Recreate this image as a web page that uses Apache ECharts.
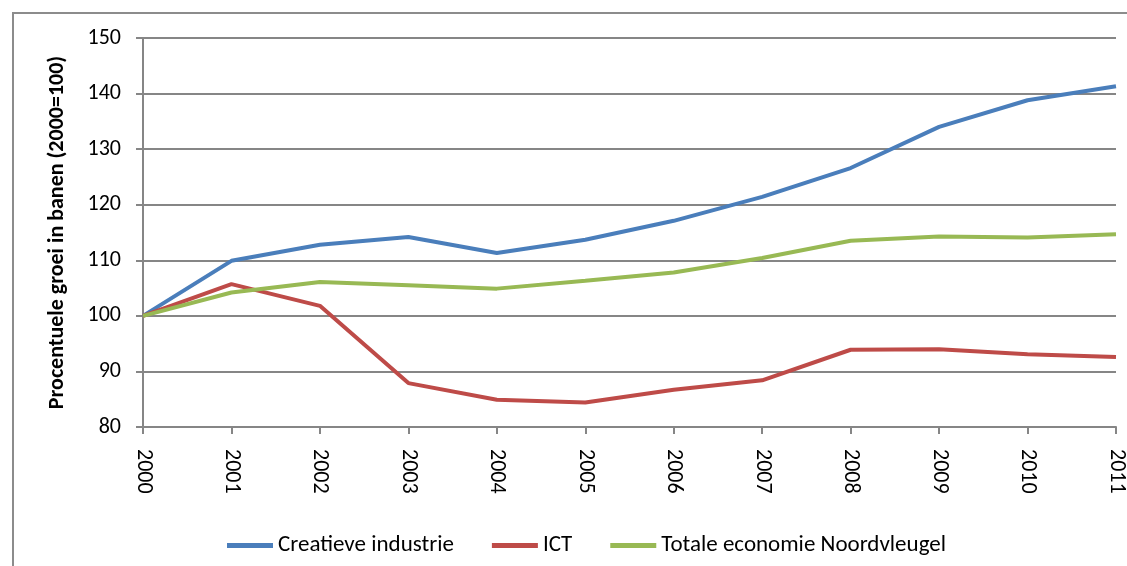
<!DOCTYPE html>
<html>
<head>
<meta charset="utf-8">
<script src="https://cdn.jsdelivr.net/npm/echarts@6/dist/echarts.min.js"></script>
<style>
  html, body { margin: 0; padding: 0; background: #fff; }
  #chart-container { width: 1127px; height: 566px; }
</style>
</head>
<body>
<div id="chart-container"></div>
<script>
var years = ['2000', '2001', '2002', '2003', '2004', '2005', '2006', '2007', '2008', '2009', '2010', '2011'];
var creatief = [100, 109.9, 112.8, 114.2, 111.3, 113.7, 117.1, 121.4, 126.6, 134.0, 138.8, 141.3];
var ict = [100, 105.7, 101.8, 87.9, 84.9, 84.4, 86.7, 88.4, 93.9, 94.0, 93.1, 92.6];
var totaal = [100, 104.2, 106.1, 105.5, 104.9, 106.3, 107.8, 110.4, 113.5, 114.3, 114.1, 114.7];

var dom = document.getElementById('chart-container');
var myChart = echarts.init(dom, null, { renderer: 'canvas' });

var fontFam = 'Carlito, "Liberation Sans Narrow", "Open Sans", sans-serif';
var gridColor = '#868686';

var option = {
  animation: false,
  textStyle: { fontFamily: fontFam },
  graphic: [{
    type: 'rect',
    shape: { x: 13, y: 13, width: 1130, height: 570 },
    style: { fill: 'none', stroke: '#8c8c8c', lineWidth: 2 },
    silent: true
  }],
  grid: { left: 143, right: 10, top: 38, bottom: 139 },
  legend: {
    top: 529,
    left: 222,
    itemWidth: 46,
    itemHeight: 5,
    itemGap: 38,
    icon: 'rect',
    textStyle: { fontSize: 23, color: '#000', fontFamily: fontFam },
    data: ['Creatieve industrie', 'ICT', 'Totale economie Noordvleugel']
  },
  xAxis: {
    type: 'category',
    data: years,
    boundaryGap: false,
    axisLine: { lineStyle: { color: gridColor, width: 2 } },
    axisTick: { show: true, length: 7, lineStyle: { color: gridColor, width: 2 } },
    axisLabel: { rotate: -90, fontSize: 22, color: '#000', margin: 22, fontFamily: fontFam }
  },
  yAxis: {
    type: 'value',
    min: 80,
    max: 150,
    interval: 10,
    name: 'Procentuele groei in banen (2000=100)',
    nameLocation: 'middle',
    nameGap: 75,
    nameTextStyle: { fontSize: 22, fontWeight: 'bold', color: '#000', fontFamily: fontFam },
    axisLine: { show: true, lineStyle: { color: gridColor, width: 2 } },
    axisTick: { show: true, length: 7, lineStyle: { color: gridColor, width: 2 } },
    axisLabel: { fontSize: 22, color: '#000', margin: 22, fontFamily: fontFam },
    splitLine: { lineStyle: { color: gridColor, width: 2 } }
  },
  series: [
    {
      name: 'Creatieve industrie', type: 'line', data: creatief,
      symbol: 'none', lineStyle: { width: 4, color: '#4a7ebb' }, itemStyle: { color: '#4a7ebb' }
    },
    {
      name: 'ICT', type: 'line', data: ict,
      symbol: 'none', lineStyle: { width: 4, color: '#be4b48' }, itemStyle: { color: '#be4b48' }
    },
    {
      name: 'Totale economie Noordvleugel', type: 'line', data: totaal,
      symbol: 'none', lineStyle: { width: 4, color: '#98b954' }, itemStyle: { color: '#98b954' }
    }
  ]
};

myChart.setOption(option);
window.addEventListener('resize', myChart.resize);
</script>
</body>
</html>
